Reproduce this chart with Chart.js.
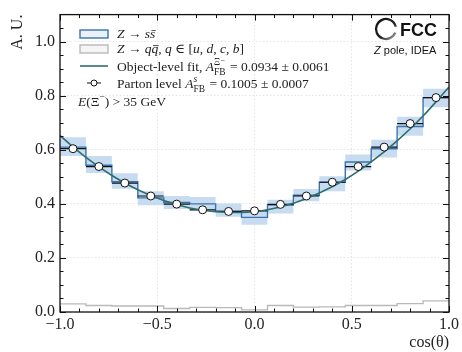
<!DOCTYPE html>
<html>
<head>
<meta charset="utf-8">
<script src="https://cdn.jsdelivr.net/npm/chart.js"></script>
<style>
  body { margin: 0; background: #fff; }
</style>
</head>
<body>
<canvas id="myChart" width="462" height="352"></canvas>
<script>
// bin edges / centres in cos(theta)
const binEdges = [-1.0, -0.8667, -0.7333, -0.6, -0.4667, -0.3333, -0.2, -0.0667, 0.0667, 0.2, 0.3333, 0.4667, 0.6, 0.7333, 0.8667, 1.0];
const binCentres = [-0.9333, -0.8, -0.6667, -0.5333, -0.4, -0.2667, -0.1333, 0.0, 0.1333, 0.2667, 0.4, 0.5333, 0.6667, 0.8, 0.9333];

// Z -> s sbar, object level histogram and its uncertainty band
const ssValues = [0.610, 0.543, 0.482, 0.422, 0.405, 0.400, 0.372, 0.350, 0.396, 0.432, 0.480, 0.555, 0.604, 0.686, 0.793];
const ssBandLo = [0.577, 0.514, 0.456, 0.395, 0.381, 0.376, 0.352, 0.323, 0.364, 0.410, 0.447, 0.523, 0.571, 0.652, 0.757];
const ssBandHi = [0.646, 0.577, 0.513, 0.447, 0.429, 0.425, 0.401, 0.376, 0.415, 0.455, 0.502, 0.583, 0.637, 0.722, 0.826];

// Z -> q qbar background
const qqValues = [0.030, 0.024, 0.022, 0.022, 0.013, 0.017, 0.016, 0.008, 0.024, 0.018, 0.019, 0.024, 0.024, 0.031, 0.041];

// parton level points
const partonValues = [0.604, 0.538, 0.477, 0.429, 0.399, 0.378, 0.372, 0.374, 0.398, 0.429, 0.480, 0.538, 0.610, 0.697, 0.793];

// object-level fit curve, read at the bin edges
const fitValues = [0.652, 0.572, 0.505, 0.452, 0.412, 0.385, 0.371, 0.368, 0.378, 0.402, 0.440, 0.490, 0.555, 0.633, 0.725, 0.832];

const xTicks = [-1.0, -0.5, 0.0, 0.5, 1.0];
const xMinor = [-0.9, -0.8, -0.7, -0.6, -0.4, -0.3, -0.2, -0.1, 0.1, 0.2, 0.3, 0.4, 0.6, 0.7, 0.8, 0.9];
const yTicks = [0.0, 0.2, 0.4, 0.6, 0.8, 1.0];
const yMinor = [0.05, 0.1, 0.15, 0.25, 0.3, 0.35, 0.45, 0.5, 0.55, 0.65, 0.7, 0.75, 0.85, 0.9, 0.95, 1.05];

const SERIF = '"Liberation Serif", "DejaVu Serif", serif';
const SANS = '"Liberation Sans", Arial, sans-serif';
const BLUE = '#3b74ad';
const BAND = 'rgba(190,214,238,0.85)';
const GREY = '#b9b9b9';
const TEAL = '#2e6e70';

function steps(vals) {
  return binEdges.map((x, i) => ({x: x, y: vals[Math.min(i, vals.length - 1)]}));
}
function errBars(vals) {
  const out = [];
  vals.forEach((v, i) => {
    out.push({x: binEdges[i], y: v}, {x: binEdges[i + 1], y: v}, {x: binEdges[i + 1], y: null});
  });
  return out;
}
function fmt(v) {
  return v.toFixed(1).replace('-', '\u2212');
}

// draws a run of text pieces (italic, scripts, overline)
function rich(ctx, x, y, parts, size) {
  ctx.textBaseline = 'alphabetic';
  ctx.textAlign = 'left';
  for (const p of parts) {
    if (p.sub !== undefined || p.sup !== undefined) {
      const s = size * 0.7;
      ctx.font = (p.supI ? 'italic ' : '') + s + 'px ' + SERIF;
      const w1 = p.sup ? ctx.measureText(p.sup).width : 0;
      if (p.sup) ctx.fillText(p.sup, x, y - size * 0.42);
      ctx.font = s + 'px ' + SERIF;
      const w2 = p.sub ? ctx.measureText(p.sub).width : 0;
      if (p.sub) ctx.fillText(p.sub, x, y + size * 0.28);
      x += Math.max(w1, w2) + 1;
      continue;
    }
    const sz = p.s ? size * p.s : size;
    ctx.font = (p.i ? 'italic ' : '') + sz + 'px ' + SERIF;
    const dy = p.dy ? p.dy : 0;
    ctx.fillText(p.t, x, y + dy);
    const w = ctx.measureText(p.t).width;
    if (p.bar) {
      ctx.save();
      ctx.lineWidth = 0.8;
      ctx.strokeStyle = ctx.fillStyle;
      ctx.beginPath();
      ctx.moveTo(x + 1.5, y - size * 0.55);
      ctx.lineTo(x + w + 0.5, y - size * 0.55);
      ctx.stroke();
      ctx.restore();
    }
    x += w;
  }
  return x;
}

const framePlugin = {
  id: 'frame',
  afterDraw(chart) {
    const ctx = chart.ctx;
    const {left, right, top, bottom} = chart.chartArea;
    const xs = chart.scales.x, ys = chart.scales.y;
    ctx.save();
    ctx.strokeStyle = '#111';
    ctx.lineWidth = 1;
    ctx.beginPath();
    for (const v of xTicks) {
      const px = Math.round(xs.getPixelForValue(v)) + 0.5;
      ctx.moveTo(px, bottom); ctx.lineTo(px, bottom - 6);
      ctx.moveTo(px, top); ctx.lineTo(px, top + 6);
    }
    for (const v of xMinor) {
      const px = Math.round(xs.getPixelForValue(v)) + 0.5;
      ctx.moveTo(px, bottom); ctx.lineTo(px, bottom - 3.5);
      ctx.moveTo(px, top); ctx.lineTo(px, top + 3.5);
    }
    for (const v of yTicks) {
      const py = Math.round(ys.getPixelForValue(v)) + 0.5;
      ctx.moveTo(left, py); ctx.lineTo(left + 6, py);
      ctx.moveTo(right, py); ctx.lineTo(right - 6, py);
    }
    for (const v of yMinor) {
      const py = Math.round(ys.getPixelForValue(v)) + 0.5;
      ctx.moveTo(left, py); ctx.lineTo(left + 3.5, py);
      ctx.moveTo(right, py); ctx.lineTo(right - 3.5, py);
    }
    ctx.stroke();
    ctx.lineWidth = 1.3;
    ctx.strokeRect(left, top, right - left, bottom - top);

    // legend
    const lx = 80, tx = 117, fs = 13.5;
    ctx.lineWidth = 1.4;
    ctx.fillStyle = 'rgba(214,228,243,0.5)';
    ctx.strokeStyle = BLUE;
    ctx.fillRect(lx, 30, 28, 8);
    ctx.strokeRect(lx, 30, 28, 8);
    ctx.fillStyle = 'rgba(235,235,235,0.5)';
    ctx.strokeStyle = GREY;
    ctx.fillRect(lx, 45, 28, 8);
    ctx.strokeRect(lx, 45, 28, 8);
    ctx.strokeStyle = TEAL;
    ctx.lineWidth = 1.6;
    ctx.beginPath(); ctx.moveTo(lx, 66); ctx.lineTo(lx + 28, 66); ctx.stroke();
    ctx.strokeStyle = '#111';
    ctx.lineWidth = 1;
    ctx.beginPath(); ctx.moveTo(lx + 7, 83); ctx.lineTo(lx + 21, 83); ctx.stroke();
    ctx.fillStyle = '#fff';
    ctx.beginPath(); ctx.arc(lx + 14, 83, 3, 0, Math.PI * 2); ctx.fill(); ctx.stroke();

    ctx.fillStyle = '#222';
    rich(ctx, tx, 38, [{t: 'Z', i: 1}, {t: ' \u2192 '}, {t: 's', i: 1}, {t: 's', i: 1, bar: 1}], fs);
    rich(ctx, tx, 53, [{t: 'Z', i: 1}, {t: ' \u2192 '}, {t: 'q', i: 1}, {t: 'q', i: 1, bar: 1}, {t: ', '},
      {t: 'q', i: 1}, {t: ' \u2208 ['}, {t: 'u', i: 1}, {t: ', '}, {t: 'd', i: 1}, {t: ', '}, {t: 'c', i: 1},
      {t: ', '}, {t: 'b', i: 1}, {t: ']'}], fs);
    rich(ctx, tx, 71, [{t: 'Object-level fit, '}, {t: 'A', i: 1}, {sub: 'FB', sup: '\u039E\u207B'},
      {t: ' = 0.0934 \u00B1 0.0061'}], fs);
    rich(ctx, tx, 88, [{t: 'Parton level '}, {t: 'A', i: 1}, {sub: 'FB', sup: 's', supI: 1},
      {t: ' = 0.1005 \u00B1 0.0007'}], fs);
    rich(ctx, 78, 106, [{t: 'E', i: 1}, {t: '(\u039E'}, {t: '\u2212', s: 0.7, dy: -6}, {t: ') > 35 GeV'}], fs);

    // FCC mark
    const grad = ctx.createLinearGradient(374, 18, 396, 40);
    grad.addColorStop(0, '#111');
    grad.addColorStop(0.6, '#222');
    grad.addColorStop(1, '#bbb');
    ctx.strokeStyle = grad;
    ctx.lineWidth = 2.3;
    ctx.beginPath();
    ctx.arc(386, 29, 10, 0.12 * Math.PI, 1.93 * Math.PI);
    ctx.stroke();
    ctx.fillStyle = '#111';
    ctx.font = 'bold 18px ' + SANS;
    ctx.textAlign = 'left';
    ctx.textBaseline = 'alphabetic';
    ctx.fillText('FCC', 400, 36);
    ctx.font = 'italic 11px ' + SANS;
    ctx.fillText('Z', 374, 54);
    const zw = ctx.measureText('Z').width;
    ctx.font = '11px ' + SANS;
    ctx.fillText(' pole, IDEA', 374 + zw, 54);
    ctx.restore();
  }
};

new Chart("myChart", {
  type: "line",
  data: {
    datasets: [{
      data: binCentres.map((x, i) => ({x: x, y: partonValues[i]})),
      showLine: false,
      pointRadius: 4,
      pointBackgroundColor: "#fff",
      pointBorderColor: "#111",
      pointBorderWidth: 1,
      order: 0
    }, {
      data: binEdges.map((x, i) => ({x: x, y: fitValues[i]})),
      borderColor: TEAL,
      borderWidth: 1.6,
      cubicInterpolationMode: "monotone",
      pointRadius: 0,
      fill: false,
      order: 1
    }, {
      data: errBars(partonValues),
      borderColor: "#111",
      borderWidth: 1.2,
      pointRadius: 0,
      spanGaps: false,
      fill: false,
      order: 2
    }, {
      data: steps(ssValues),
      stepped: "before",
      borderColor: BLUE,
      borderWidth: 1.4,
      pointRadius: 0,
      fill: false,
      order: 3
    }, {
      data: steps(qqValues),
      stepped: "before",
      borderColor: GREY,
      borderWidth: 1.4,
      pointRadius: 0,
      fill: false,
      order: 4
    }, {
      data: steps(ssBandHi),
      stepped: "before",
      borderWidth: 0,
      borderColor: "rgba(0,0,0,0)",
      backgroundColor: BAND,
      pointRadius: 0,
      fill: 6,
      order: 5
    }, {
      data: steps(ssBandLo),
      stepped: "before",
      borderWidth: 0,
      borderColor: "rgba(0,0,0,0)",
      pointRadius: 0,
      fill: false,
      order: 6
    }]
  },
  options: {
    responsive: false,
    animation: false,
    devicePixelRatio: 1,
    layout: {padding: {top: 10, right: 9, left: 0, bottom: 0}},
    plugins: {legend: {display: false}, tooltip: {enabled: false}},
    scales: {
      x: {
        type: "linear",
        min: -1,
        max: 1,
        afterBuildTicks: s => { s.ticks = xTicks.map(v => ({value: v})); },
        afterFit: s => { s.height = 40; },
        ticks: {callback: v => fmt(v), font: {family: SERIF, size: 16}, color: "#222", padding: 3, maxRotation: 0, autoSkip: false},
        grid: {color: "#dedede", lineWidth: 0.8, drawTicks: false},
        border: {display: false, dash: [1.5, 2]},
        title: {display: true, text: "cos(\u03B8)", align: "end", font: {family: SERIF, size: 16}, color: "#222", padding: {top: 0, bottom: 0}}
      },
      y: {
        min: 0,
        max: 1.1,
        afterBuildTicks: s => { s.ticks = yTicks.map(v => ({value: v})); },
        afterFit: s => { s.width = 60; },
        ticks: {callback: v => fmt(v), font: {family: SERIF, size: 16}, color: "#222", padding: 5},
        grid: {color: "#dedede", lineWidth: 0.8, drawTicks: false},
        border: {display: false, dash: [1.5, 2]},
        title: {display: true, text: "A. U.", align: "end", font: {family: SERIF, size: 16}, color: "#222", padding: {top: 8, bottom: 0}}
      }
    }
  },
  plugins: [framePlugin]
});
</script>
</body>
</html>
